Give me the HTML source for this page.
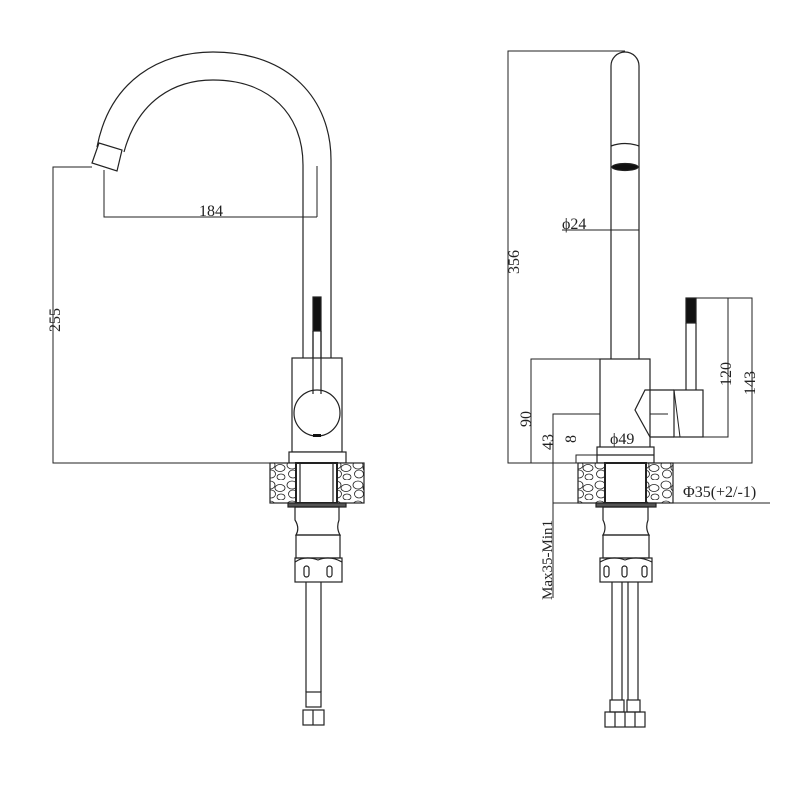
<!DOCTYPE html>
<html><head><style>body{margin:0;background:#fff}svg{display:block}text{font-family:"Liberation Serif",serif;fill:#222}</style></head>
<body>
<svg width="800" height="800" viewBox="0 0 800 800" xmlns="http://www.w3.org/2000/svg">
<defs>
<pattern id="stone" width="22" height="20" patternUnits="userSpaceOnUse">
<rect width="22" height="20" fill="#fff"/>
<ellipse cx="6" cy="5" rx="5" ry="4" fill="none" stroke="#222" stroke-width="0.8"/>
<ellipse cx="16" cy="8" rx="5" ry="3.5" fill="none" stroke="#222" stroke-width="0.8"/>
<ellipse cx="7" cy="14" rx="4.5" ry="4" fill="none" stroke="#222" stroke-width="0.8"/>
<ellipse cx="17" cy="17" rx="4" ry="3" fill="none" stroke="#222" stroke-width="0.8"/>
</pattern>
</defs>
<g fill="none" stroke="#222" stroke-width="1.2">
<!-- LEFT VIEW -->
<path d="M97 147 C110 80,160 52,213 52 C290 52,331 100,331 160 L331 358"/>
<path d="M124 152 C138 100,175 80,213 80 C270 80,303 115,303 165 L303 358"/>
<path d="M92 163 L99 143 L122 150 L117 171 Z"/>
<path d="M104 170 V217 H317 M317 166 V217" stroke-width="1"/>
<path d="M92 167 H53 V463 H270" stroke-width="1"/>
<rect x="313" y="297" width="8" height="34" fill="#111"/>
<path d="M313 331 V395 M321 331 V395"/>
<rect x="292" y="358" width="50" height="94" fill="#fff"/>
<circle cx="317" cy="413" r="23" fill="#fff"/>
<path d="M313 394 V331 M321 394 V331"/>
<rect x="313" y="434" width="8" height="3" fill="#111" stroke="none"/>
<rect x="289" y="452" width="57" height="11" fill="#fff"/>
<rect x="270" y="463" width="94" height="40" fill="url(#stone)"/>
<rect x="296" y="463" width="41" height="40" fill="#fff" stroke-width="2"/>
<path d="M300 463 V503 M333 463 V503"/>
<rect x="288" y="503" width="58" height="4" fill="#555"/>
<path d="M295 507 H339 V520 Q336 528,340 535 H296 Q300 528,295 520 Z"/>
<rect x="296" y="535" width="44" height="23"/>
<rect x="295" y="558" width="47" height="24"/>
<path d="M295 562 Q305 555,318 560 Q330 555,342 562"/>
<rect x="304" y="566" width="5" height="11" rx="2.5"/><rect x="327" y="566" width="5" height="11" rx="2.5"/>
<path d="M306 582 V692 M321 582 V692"/>
<rect x="306" y="692" width="15" height="15"/>
<rect x="303" y="710" width="21" height="15"/><path d="M313 710 V725"/>
<!-- RIGHT VIEW -->
<path d="M611 359 V66 A14 14 0 0 1 639 66 V359"/>
<path d="M611 146 Q625 141,639 146"/>
<ellipse cx="625" cy="167" rx="13" ry="3.5" fill="#111"/>
<path d="M562 230 H639" stroke-width="1"/>
<path d="M625 51 H508 V463 H752 V298 H696 M703 437 H728 V298" stroke-width="1"/>
<path d="M600 359 H531 V463 M553 503 V414 H668 M576 463 V455 H597" stroke-width="1"/>
<rect x="600" y="359" width="50" height="104" fill="#fff"/>
<path d="M650 390 L645 390 L635 410 L650 437 H674 M650 390 H674"/>
<rect x="674" y="390" width="29" height="47" fill="#fff"/>
<path d="M674 390 L680 437" stroke-width="1"/>
<rect x="686" y="298" width="10" height="25" fill="#111"/>
<path d="M686 323 V390 M696 323 V390"/>
<rect x="597" y="447" width="57" height="16" fill="#fff"/><path d="M597 455 H654"/>
<rect x="578" y="463" width="95" height="40" fill="url(#stone)"/>
<rect x="605" y="463" width="41" height="40" fill="#fff" stroke-width="2"/>
<path d="M553 503 H770 M553 503 V598" stroke-width="1"/>
<rect x="596" y="503" width="60" height="4" fill="#555"/>
<path d="M603 507 H648 V520 Q645 528,649 535 H603 Q607 528,603 520 Z"/>
<rect x="603" y="535" width="46" height="23"/>
<rect x="600" y="558" width="52" height="24"/>
<path d="M600 562 Q612 555,625 560 Q638 555,652 562"/>
<rect x="604" y="566" width="5" height="11" rx="2.5"/><rect x="622" y="566" width="5" height="11" rx="2.5"/><rect x="642" y="566" width="5" height="11" rx="2.5"/>
<path d="M612 582 V700 M622 582 V700 M628 582 V700 M638 582 V700"/>
<rect x="610" y="700" width="14" height="12"/><rect x="627" y="700" width="13" height="12"/>
<rect x="605" y="712" width="40" height="15"/><path d="M615 712 V727 M625 712 V727 M635 712 V727"/>
</g>
<g font-size="16">
<text x="199" y="216">184</text>
<text transform="translate(60,332) rotate(-90)">255</text>
<text x="562" y="229">ϕ24</text>
<text transform="translate(519,274) rotate(-90)">356</text>
<text transform="translate(531,427) rotate(-90)">90</text>
<text transform="translate(553,450) rotate(-90)">43</text>
<text transform="translate(576,443) rotate(-90)">8</text>
<text x="610" y="444">ϕ49</text>
<text transform="translate(731,386) rotate(-90)">120</text>
<text transform="translate(755,395) rotate(-90)">143</text>
<text x="683" y="497">Φ35(+2/-1)</text>
<text transform="translate(552,600) rotate(-90)" font-size="15">Max35-Min1</text>
</g>
</svg>
</body></html>
